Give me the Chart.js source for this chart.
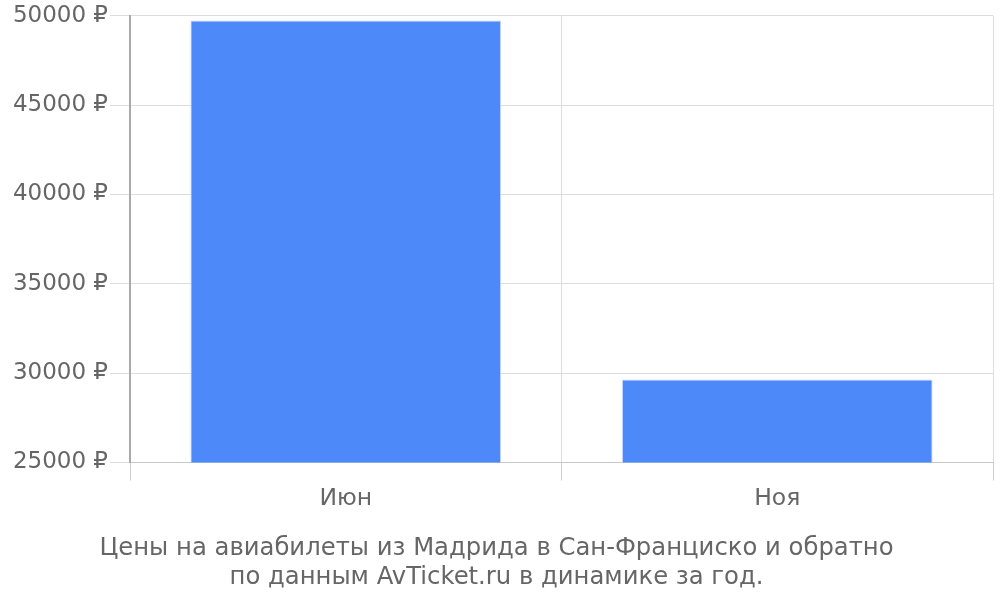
<!DOCTYPE html>
<html>
<head>
<meta charset="utf-8">
<script src="https://cdn.jsdelivr.net/npm/chart.js@4"></script>
<style>
  html, body { margin: 0; padding: 0; background: #fff; }
  #wrap { width: 1000px; height: 600px; }
</style>
</head>
<body>
<div id="wrap"><canvas id="chart"></canvas></div>
<script>
// Chart data
const months = ['Июн', 'Ноя'];
const prices = [49740, 29650];
const yTicks = [25000, 30000, 35000, 40000, 45000, 50000];
const titleLines = [
  'Цены на авиабилеты из Мадрида в Сан-Франциско и обратно',
  'по данным AvTicket.ru в динамике за год.'
];

Chart.defaults.font.family = '"DejaVu Sans", sans-serif';
Chart.defaults.color = '#666';

const ctx = document.getElementById('chart').getContext('2d');
const chart = new Chart(ctx, {
  type: 'bar',
  data: {
    labels: months,
    datasets: [{
      data: prices,
      backgroundColor: '#4d89f9',
      borderColor: '#c5d8fd',
      borderWidth: 1,
      barPercentage: 0.72,
      categoryPercentage: 1
    }]
  },
  options: {
    responsive: true,
    maintainAspectRatio: false,
    animation: false,
    layout: { padding: { top: 14, right: 7, left: 0, bottom: 8 } },
    plugins: {
      legend: { display: false },
      tooltip: { enabled: false },
      title: {
        display: true,
        position: 'bottom',
        text: titleLines,
        color: '#666',
        font: { size: 24.3, weight: 'normal' },
        lineHeight: 1.16,
        padding: { top: 17, bottom: 0 }
      }
    },
    scales: {
      x: {
        offset: true,
        grid: {
          offset: true,
          color: '#dddddd',
          tickLength: 18,
          tickColor: '#ccc'
        },
        border: { color: '#c8c8c8' },
        ticks: { font: { size: 23.5 }, color: '#666', padding: 4 }
      },
      y: {
        min: yTicks[0],
        max: yTicks[yTicks.length - 1],
        afterBuildTicks: (axis) => { axis.ticks = yTicks.map(v => ({ value: v })); },
        afterFit: (axis) => { axis.width = 130; },
        grid: { color: '#dddddd', tickLength: 20, tickColor: '#dddddd' },
        border: { color: '#aaa', width: 2 },
        ticks: {
          font: { size: 23 },
          color: '#666',
          padding: 2,
          callback: (v) => v + ' ₽'
        }
      }
    }
  }
});
</script>
</body>
</html>
